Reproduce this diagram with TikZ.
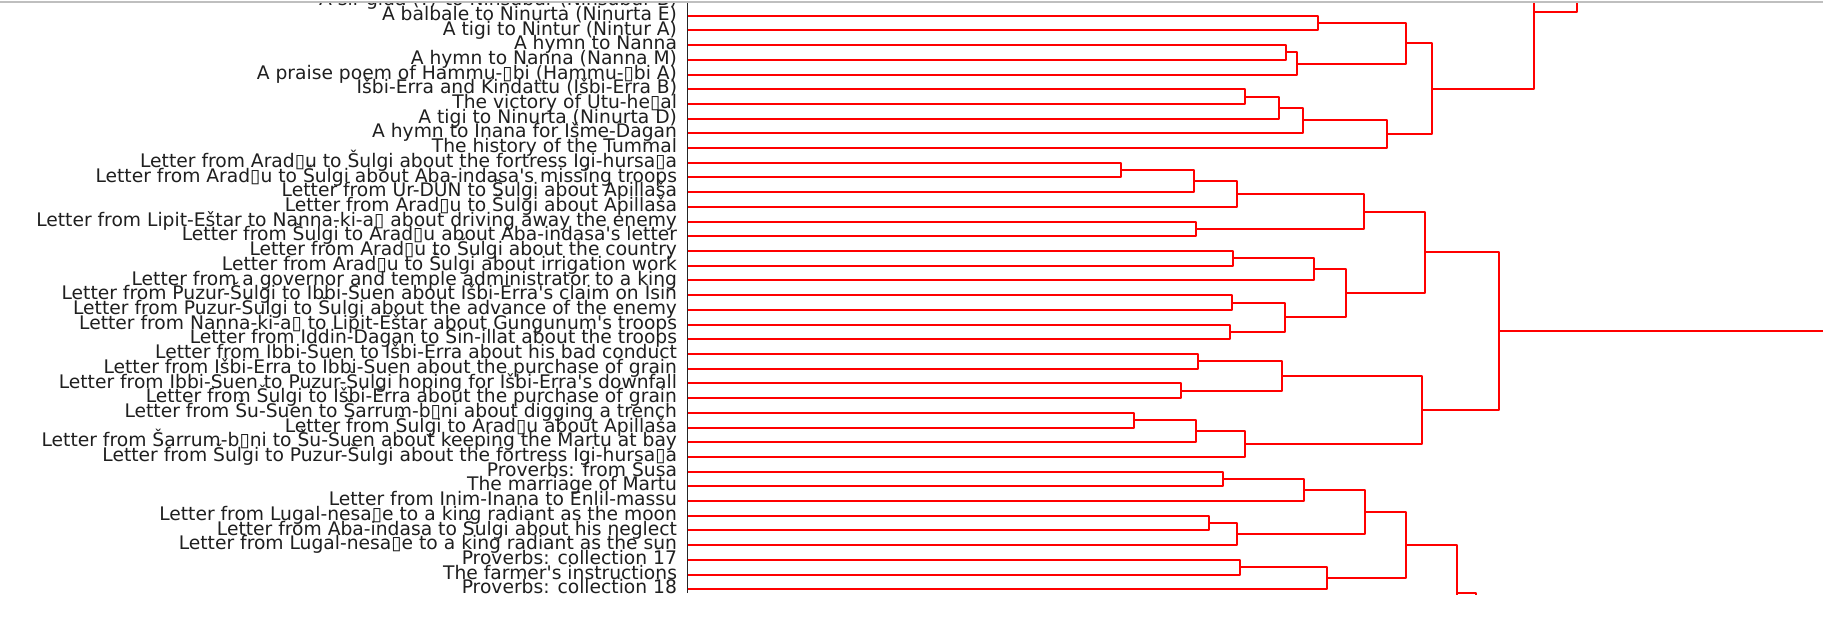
\documentclass[tikz,border=0pt]{standalone}
\usepackage{fontspec}
\newfontfamily\lblfont{DejaVu Sans}
\usetikzlibrary{calc}
\newcommand\mrg[4]{% name, child a, child b, x of the join
  \path let \p1=($(#2)!0.5!(#3)$), \p2=(#4,0) in (\x2,\y1) coordinate (#1);
  \draw[link] (#2) -- (#2 -| #1) -- (#3 -| #1) -- (#3);
}
\begin{document}
\begin{tikzpicture}[x=0.5pt,y=-0.5pt,
  link/.style={draw=red, line width=1pt, line join=round},
  lbl/.style={anchor=base east, inner sep=0pt, outer sep=0pt,
    font=\lblfont\fontsize{9.35}{9.35}\selectfont, text=black!88}]
\useasboundingbox (0,0) rectangle (1836,620);
\fill[white] (0,0) rectangle (1836,620);
\draw[black!25, line width=1pt] (0,2.3) -- (1823,2.3);
\begin{scope}
\clip (0,3.5) rectangle (1836,594);
\foreach \i/\t in {
 1/{A šir-gida (?) to Ninšubur (Ninšubur B)},
 2/{A balbale to Ninurta (Ninurta E)},
 3/{A tigi to Nintur (Nintur A)},
 4/{A hymn to Nanna},
 5/{A hymn to Nanna (Nanna M)},
 6/{A praise poem of Hammu-▯bi (Hammu-▯bi A)},
 7/{Išbi-Erra and Kindattu (Išbi-Erra B)},
 8/{The victory of Utu-he▯al},
 9/{A tigi to Ninurta (Ninurta D)},
 10/{A hymn to Inana for Išme-Dagan},
 11/{The history of the Tummal},
 12/{Letter from Arad▯u to Šulgi about the fortress Igi-hursa▯a},
 13/{Letter from Arad▯u to Šulgi about Aba-indasa's missing troops},
 14/{Letter from Ur-DUN to Šulgi about Apillaša},
 15/{Letter from Arad▯u to Šulgi about Apillaša},
 16/{Letter from Lipit-Eštar to Nanna-ki-a▯ about driving away the enemy},
 17/{Letter from Šulgi to Arad▯u about Aba-indasa's letter},
 18/{Letter from Arad▯u to Šulgi about the country},
 19/{Letter from Arad▯u to Šulgi about irrigation work},
 20/{Letter from a governor and temple administrator to a king},
 21/{Letter from Puzur-Šulgi to Ibbi-Suen about Išbi-Erra's claim on Isin},
 22/{Letter from Puzur-Šulgi to Šulgi about the advance of the enemy},
 23/{Letter from Nanna-ki-a▯ to Lipit-Eštar about Gungunum's troops},
 24/{Letter from Iddin-Dagan to Sin-illat about the troops},
 25/{Letter from Ibbi-Suen to Išbi-Erra about his bad conduct},
 26/{Letter from Išbi-Erra to Ibbi-Suen about the purchase of grain},
 27/{Letter from Ibbi-Suen to Puzur-Šulgi hoping for Išbi-Erra's downfall},
 28/{Letter from Šulgi to Išbi-Erra about the purchase of grain},
 29/{Letter from Šu-Suen to Šarrum-b▯ni about digging a trench},
 30/{Letter from Šulgi to Arad▯u about Apillaša},
 31/{Letter from Šarrum-b▯ni to Šu-Suen about keeping the Martu at bay},
 32/{Letter from Šulgi to Puzur-Šulgi about the fortress Igi-hursa▯a},
 33/{Proverbs: from Susa},
 34/{The marriage of Martu},
 35/{Letter from Inim-Inana to Enlil-massu},
 36/{Letter from Lugal-nesa▯e to a king radiant as the moon},
 37/{Letter from Aba-indasa to Šulgi about his neglect},
 38/{Letter from Lugal-nesa▯e to a king radiant as the sun},
 39/{Proverbs: collection 17},
 40/{The farmer's instructions},
 41/{Proverbs: collection 18}} {
  \coordinate (c\i) at (688,{1+(\i-1)*14.708});
  \node[lbl] (l\i) at (677,{1+(\i-1)*14.708+4.6}) {\t};
}
% --- top group
\mrg{A}{c2}{c3}{1317.7}
\mrg{B}{c4}{c5}{1286}
\mrg{C}{B}{c6}{1297}
\mrg{D}{A}{C}{1406}
\mrg{E}{c7}{c8}{1245}
\mrg{F}{E}{c9}{1279}
\mrg{G}{F}{c10}{1303}
\mrg{H}{G}{c11}{1386.6}
\mrg{I}{D}{H}{1432}
\coordinate (up1) at (1500,-65.4);
\mrg{J}{I}{up1}{1534}
\coordinate (up2) at (1576.6,-100);
\draw[link] (J) -- (J -| up2) -- (up2);
% --- letters
\mrg{L}{c12}{c13}{1121}
\mrg{M}{L}{c14}{1194}
\mrg{N}{M}{c15}{1237}
\mrg{O}{c16}{c17}{1196}
\mrg{P}{N}{O}{1364}
\mrg{Q}{c18}{c19}{1233}
\mrg{R}{Q}{c20}{1314}
\mrg{S}{c21}{c22}{1231.5}
\mrg{T}{c23}{c24}{1230}
\mrg{U}{S}{T}{1284.5}
\mrg{V}{R}{U}{1346}
\mrg{W}{P}{V}{1424.5}
\mrg{X1}{c25}{c26}{1198}
\mrg{X2}{c27}{c28}{1181}
\mrg{X3}{X1}{X2}{1282}
\mrg{X4}{c29}{c30}{1134}
\mrg{X5}{X4}{c31}{1196}
\mrg{X6}{X5}{c32}{1244.7}
\mrg{X7}{X3}{X6}{1422.4}
\mrg{X8}{W}{X7}{1499}
\coordinate (rootend) at (1823,0);
\draw[link] (X8) -- (X8 -| rootend);
% --- proverbs
\mrg{Y1}{c33}{c34}{1222.6}
\mrg{Y2}{Y1}{c35}{1304.4}
\mrg{Y3}{c36}{c37}{1209.3}
\mrg{Y4}{Y3}{c38}{1236.6}
\mrg{Y5}{Y2}{Y4}{1364.9}
\mrg{Y6}{c39}{c40}{1239.5}
\mrg{Y7}{Y6}{c41}{1327}
\mrg{Y8}{Y5}{Y7}{1406}
\coordinate (dn1) at (1440,640.8);
\mrg{Y9}{Y8}{dn1}{1456.7}
\coordinate (dn2) at (1476,700);
\draw[link] (Y9) -- (Y9 -| dn2) -- (dn2);
% --- axis spine
\draw[black!85, line width=0.6pt] (687.5,0) -- (687.5,593);
\end{scope}
\end{tikzpicture}
\end{document}
